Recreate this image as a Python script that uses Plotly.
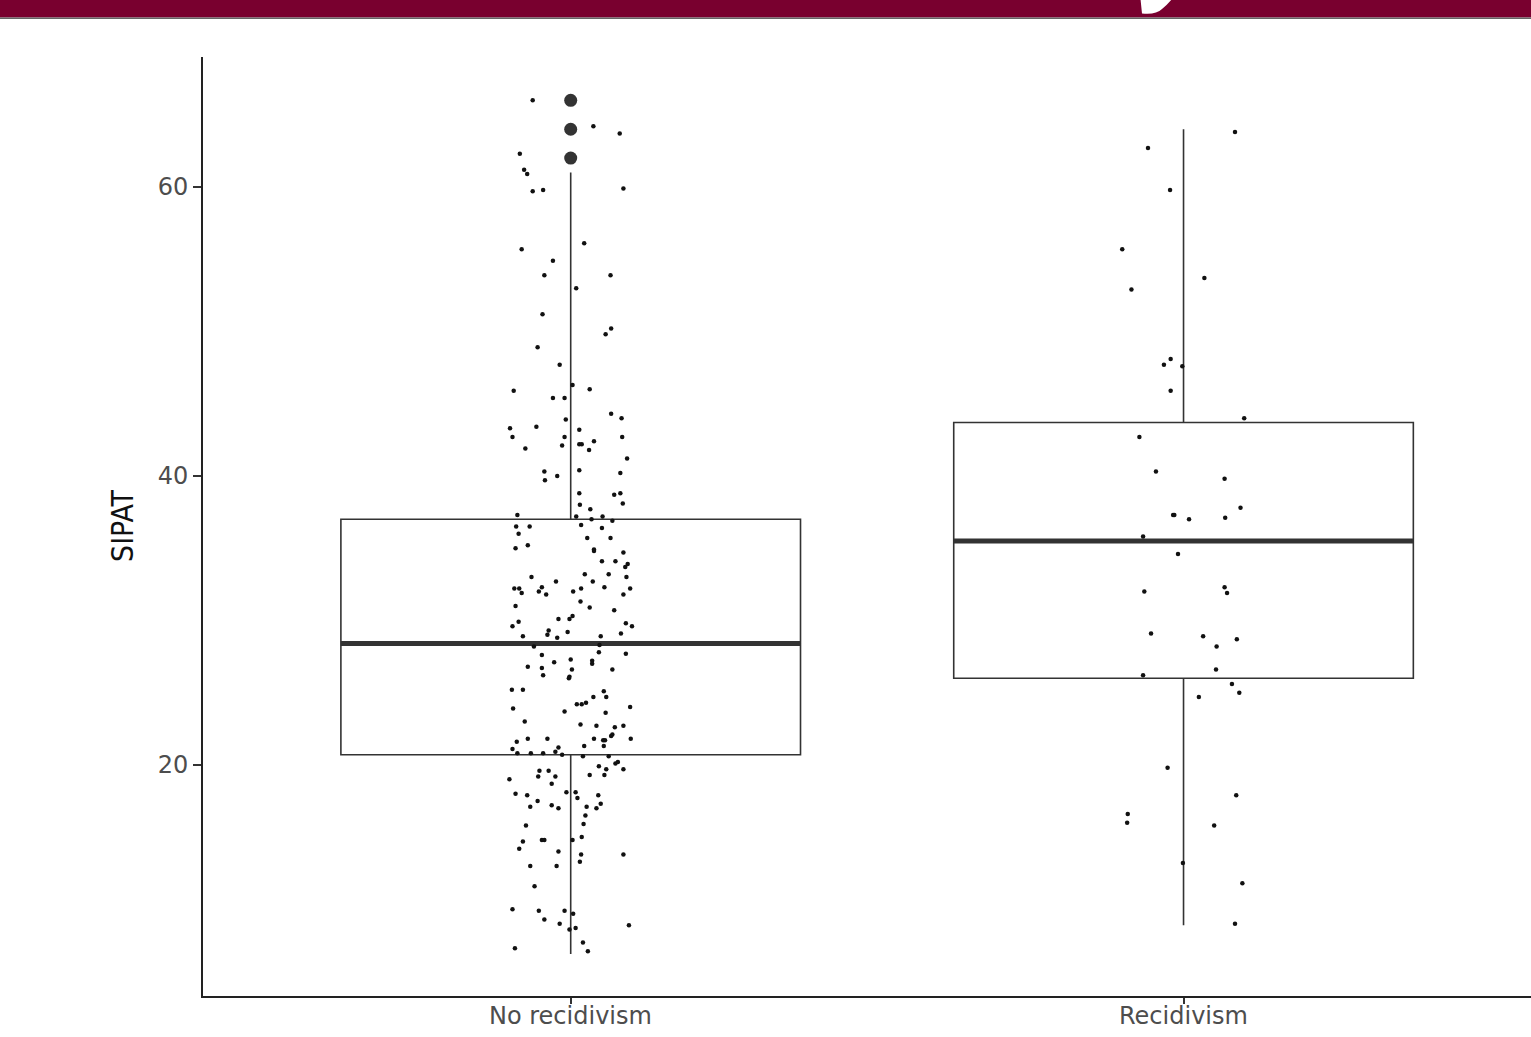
import plotly.graph_objects as go

# ---- data -------------------------------------------------------------
groups = ["No recidivism", "Recidivism"]

# box summaries (SIPAT score)
box_lower = [6.9, 8.9]
box_q1 = [20.7, 26.0]
box_median = [28.4, 35.5]
box_q3 = [37.0, 43.7]
box_upper = [61.0, 64.0]

# outliers beyond the upper whisker (No recidivism)
no_recid_outliers = [66.0, 64.0, 62.0]

# individual observations: horizontal jitter (category units) and SIPAT value
no_recid_jitter = [
    -0.062, 0.037, 0.080, -0.083, -0.076, -0.071, -0.062, -0.045, 0.086, 0.022,
    -0.080, -0.029, -0.043, 0.065, 0.009, -0.046, 0.066, 0.057, -0.054, -0.018,
    0.003, -0.093, 0.031, -0.029, -0.010, 0.066, 0.083, -0.008, -0.099, -0.056,
    0.014, -0.095, -0.010, 0.084, -0.014, 0.014, 0.018, 0.038, -0.074, 0.030,
    0.092, -0.043, 0.014, 0.081, -0.042, -0.022, 0.014, 0.081, 0.071, 0.085,
    0.015, 0.032, -0.087, 0.009, 0.052, 0.034, 0.068, -0.089, -0.067, 0.017,
    0.051, -0.085, 0.027, 0.065, -0.090, -0.070, 0.038, 0.038, 0.086, 0.051,
    0.073, 0.093, 0.089, 0.023, 0.062, 0.091, -0.064, -0.024, 0.036, -0.092,
    -0.084, -0.080, -0.047, -0.052, -0.040, 0.004, 0.017, 0.055, 0.097, 0.086,
    0.016, -0.090, 0.031, 0.071, 0.003, -0.002, -0.020, -0.085, -0.095, 0.090,
    0.100, -0.078, -0.036, -0.038, -0.022, -0.005, 0.049, 0.082, -0.060, 0.047,
    0.046, 0.090, -0.047, -0.027, 0.000, 0.035, 0.035, -0.070, -0.047, 0.002,
    0.068, -0.045, -0.003, -0.002, -0.096, -0.078, 0.054, 0.037, 0.058, 0.010,
    0.018, 0.025, -0.094, -0.010, 0.057, 0.097, -0.075, 0.016, 0.042, 0.072,
    0.086, -0.088, -0.070, -0.038, 0.038, 0.053, 0.056, 0.066, 0.068, 0.098,
    -0.020, 0.022, 0.054, -0.095, -0.087, -0.065, -0.045, -0.025, -0.014, 0.020,
    0.062, 0.046, 0.058, 0.073, 0.077, 0.086, -0.051, -0.036, -0.053, -0.025,
    0.031, 0.055, -0.100, -0.031, -0.007, 0.008, 0.011, -0.090, -0.071, 0.045,
    -0.054, 0.049, 0.042, -0.066, -0.031, -0.020, 0.026, 0.024, -0.073, 0.021,
    0.018, -0.078, -0.047, -0.043, 0.003, -0.084, -0.020, 0.017, 0.086, -0.066,
    -0.023, 0.015, -0.059, -0.095, -0.052, -0.010, 0.004, -0.043, -0.018, 0.095,
    -0.002, 0.008, 0.020, -0.091, 0.028,
]
no_recid_values = [
    66.0, 64.2, 63.7, 62.3, 61.2, 60.9, 59.7, 59.8, 59.9, 56.1,
    55.7, 54.9, 53.9, 53.9, 53.0, 51.2, 50.2, 49.8, 48.9, 47.7,
    46.3, 45.9, 46.0, 45.4, 45.4, 44.3, 44.0, 43.9, 43.3, 43.4,
    43.2, 42.7, 42.7, 42.7, 42.1, 42.2, 42.2, 42.4, 41.9, 41.8,
    41.2, 40.3, 40.4, 40.2, 39.7, 40.0, 38.8, 38.8, 38.7, 38.1,
    38.0, 37.7, 37.3, 37.2, 37.2, 37.0, 36.9, 36.5, 36.5, 36.6,
    36.4, 36.0, 35.7, 35.7, 35.0, 35.2, 34.9, 34.8, 34.7, 34.1,
    34.1, 33.9, 33.7, 33.2, 33.2, 33.0, 33.0, 32.7, 32.7, 32.2,
    32.2, 31.9, 32.3, 32.0, 31.8, 32.0, 32.2, 32.3, 32.2, 31.8,
    31.3, 31.0, 30.9, 30.7, 30.3, 30.1, 30.1, 29.9, 29.6, 29.8,
    29.6, 28.9, 29.3, 29.0, 28.8, 29.2, 28.9, 29.1, 28.2, 28.3,
    27.8, 27.7, 27.6, 27.1, 27.3, 27.2, 27.0, 26.8, 26.7, 26.6,
    26.6, 26.2, 26.0, 26.1, 25.2, 25.2, 25.1, 24.7, 24.7, 24.2,
    24.2, 24.3, 23.9, 23.7, 23.6, 24.0, 23.0, 22.8, 22.7, 22.6,
    22.7, 21.6, 21.8, 21.8, 21.8, 21.7, 21.7, 22.0, 22.1, 21.8,
    21.2, 21.3, 21.3, 21.1, 20.8, 20.8, 20.8, 20.9, 20.7, 20.6,
    20.6, 19.9, 19.7, 20.1, 20.2, 19.7, 19.6, 19.6, 19.2, 19.2,
    19.3, 19.3, 19.0, 18.7, 18.1, 18.1, 17.7, 18.0, 17.9, 17.9,
    17.5, 17.3, 17.0, 17.1, 17.2, 17.0, 17.1, 16.5, 15.8, 15.9,
    15.0, 14.7, 14.8, 14.8, 14.8, 14.2, 14.0, 13.8, 13.8, 13.0,
    13.0, 13.3, 11.6, 10.0, 9.9, 9.9, 9.7, 9.3, 9.0, 8.9,
    8.6, 8.7, 7.7, 7.3, 7.1,
]

recid_jitter = [
    0.084, -0.058, -0.022, -0.100, 0.034, -0.085, -0.021, -0.032, -0.002, -0.021,
    0.099, -0.072, -0.045, 0.067, 0.093, -0.017, -0.015, 0.009, 0.068, -0.066,
    -0.009, 0.067, 0.071, -0.064, -0.053, 0.032, 0.087, 0.054, 0.053, -0.066,
    0.079, 0.091, 0.025, -0.026, 0.086, -0.091, -0.092, 0.050, -0.001, 0.096,
    0.084,
]
recid_values = [
    63.8, 62.7, 59.8, 55.7, 53.7, 52.9, 48.1, 47.7, 47.6, 45.9,
    44.0, 42.7, 40.3, 39.8, 37.8, 37.3, 37.3, 37.0, 37.1, 35.8,
    34.6, 32.3, 31.9, 32.0, 29.1, 28.9, 28.7, 28.2, 26.6, 26.2,
    25.6, 25.0, 24.7, 19.8, 17.9, 16.6, 16.0, 15.8, 13.2, 11.8,
    9.0,
]

y_ticks = [20, 40, 60]

# ---- styling / layout helpers ----------------------------------------
W, H = 1531, 1037
M_L, M_R, M_T, M_B = 203, 0, 57, 41
BOX_WIDTH = 0.75
INK = "#333333"


def px_x(px):
    return (px - M_L) / (W - M_L - M_R)


def px_y(py):
    return (H - M_B - py) / (H - M_T - M_B)


fig = go.Figure()

positions = list(range(len(groups)))

# boxes with whiskers (no caps)
for i in positions:
    fig.add_trace(go.Box(
        x=[i],
        q1=[box_q1[i]],
        median=[box_median[i]],
        q3=[box_q3[i]],
        lowerfence=[box_lower[i]],
        upperfence=[box_upper[i]],
        width=BOX_WIDTH,
        whiskerwidth=0,
        boxpoints=False,
        fillcolor="rgba(255,255,255,0)",
        line=dict(color=INK, width=1.6),
        hoverinfo="skip",
        showlegend=False,
    ))
    # heavy median bar
    fig.add_trace(go.Scatter(
        x=[i - BOX_WIDTH / 2, i + BOX_WIDTH / 2],
        y=[box_median[i], box_median[i]],
        mode="lines",
        line=dict(color=INK, width=5),
        hoverinfo="skip",
        showlegend=False,
    ))

# outliers
fig.add_trace(go.Scatter(
    x=[positions[0]] * len(no_recid_outliers),
    y=no_recid_outliers,
    mode="markers",
    marker=dict(color=INK, size=13),
    showlegend=False,
))

# jittered observations
for i, (jit, vals) in enumerate([(no_recid_jitter, no_recid_values),
                                 (recid_jitter, recid_values)]):
    fig.add_trace(go.Scatter(
        x=[positions[i] + j for j in jit],
        y=vals,
        mode="markers",
        marker=dict(color="#111111", size=4.5),
        showlegend=False,
    ))

tick_font = dict(family="DejaVu Sans", size=24, color="#4D4D4D")

# category labels under the x axis
annotations = [
    dict(text=g, xref="x", yref="paper", x=p, y=px_y(1016),
         xanchor="center", yanchor="middle", showarrow=False,
         font=tick_font)
    for p, g in zip(positions, groups)
]
annotations.append(dict(
    text="SIPAT",
    xref="paper", yref="paper",
    x=px_x(122), y=px_y(526),
    xanchor="center", yanchor="middle",
    textangle=-90,
    showarrow=False,
    font=dict(family="Liberation Sans Narrow, DejaVu Sans Condensed, Arial Narrow, sans-serif",
              size=30, color="#111111"),
))

fig.update_layout(
    width=W,
    height=H,
    margin=dict(l=M_L, r=M_R, t=M_T, b=M_B, autoexpand=False),
    paper_bgcolor="white",
    plot_bgcolor="white",
    boxmode="overlay",
    showlegend=False,
    xaxis=dict(
        range=[-0.6, 1.567],
        tickmode="array",
        tickvals=positions,
        showticklabels=False,
        ticks="outside",
        ticklen=6,
        tickwidth=1.5,
        tickcolor=INK,
        showline=True,
        linecolor="#222222",
        linewidth=2,
        showgrid=False,
        zeroline=False,
    ),
    yaxis=dict(
        range=[4.0, 69.0],
        tickmode="array",
        tickvals=y_ticks,
        ticks="outside",
        ticklen=8,
        tickwidth=1.5,
        tickcolor=INK,
        showline=True,
        linecolor="#222222",
        linewidth=2,
        showgrid=False,
        zeroline=False,
        tickfont=tick_font,
    ),
    annotations=annotations,
    shapes=[
        # header banner
        dict(type="rect", xref="paper", yref="paper",
             x0=px_x(0), x1=px_x(W), y0=px_y(17.5), y1=px_y(-2),
             fillcolor="#79002F", line=dict(width=0), layer="above"),
        dict(type="line", xref="paper", yref="paper",
             x0=px_x(0), x1=px_x(W), y0=px_y(18.2), y1=px_y(18.2),
             line=dict(color="#666666", width=1.5), layer="above"),
        # white glyph fragment in the banner
        dict(type="path", xref="paper", yref="paper",
             path=(f"M {px_x(1140.5)},{px_y(-1)} "
                   f"L {px_x(1142)},{px_y(13.5)} "
                   f"Q {px_x(1156)},{px_y(15)} {px_x(1162)},{px_y(9)} "
                   f"Q {px_x(1168)},{px_y(4)} {px_x(1172)},{px_y(-1)} Z"),
             fillcolor="white", line=dict(width=0), layer="above"),
    ],
)

fig.write_html("out.html")
